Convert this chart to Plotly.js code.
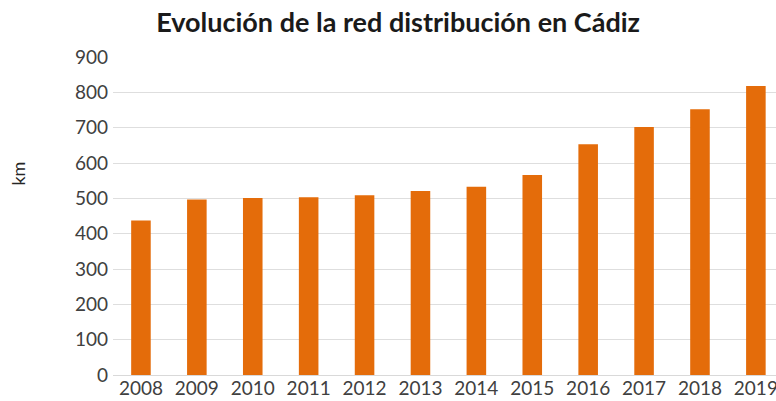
<!DOCTYPE html>
<html>
<head>
<meta charset="utf-8">
<script src="https://cdn.plot.ly/plotly-3.0.1.min.js"></script>
<style>html,body{margin:0;padding:0;background:#fff;}#chart{width:776px;height:401px;}</style>
</head>
<body>
<div id="chart"></div>
<script>
const years = ["2008","2009","2010","2011","2012","2013","2014","2015","2016","2017","2018","2019"];
const km = [437, 497, 501, 503, 509, 521, 533, 566, 653, 702, 752, 818];
const yTicks = [0,100,200,300,400,500,600,700,800,900];

const trace = {
  type: 'bar',
  x: years,
  y: km,
  width: 0.35,
  marker: {color: '#E46C0A', line: {width: 0}},
  hoverinfo: 'x+y'
};

const layout = {
  width: 776,
  height: 401,
  margin: {l: 113, r: 0, t: 57, b: 26, pad: 0},
  paper_bgcolor: '#ffffff',
  plot_bgcolor: '#ffffff',
  showlegend: false,
  title: {
    text: '<b>Evolución de la red distribución en Cádiz</b>',
    font: {family: 'Lato, sans-serif', size: 27, color: '#1a1a1a'},
    x: 0.513, xref: 'container', xanchor: 'center',
    y: 0.945, yref: 'container', yanchor: 'middle'
  },
  xaxis: {
    type: 'category',
    range: [-0.5, 11.36],
    showgrid: false,
    showline: false,
    zeroline: false,
    ticks: '',
    tickfont: {family: 'Lato, sans-serif', size: 19, color: '#404040'},
    fixedrange: true
  },
  yaxis: {
    range: [0, 900],
    tickvals: yTicks,
    ticktext: yTicks.map(String),
    showgrid: true,
    gridcolor: '#dedede',
    gridwidth: 1,
    zeroline: true,
    zerolinecolor: '#d9d9d9',
    zerolinewidth: 1,
    showline: false,
    ticks: '',
    ticklabelstandoff: 4,
    tickfont: {family: 'Lato, sans-serif', size: 19, color: '#404040'},
    fixedrange: true
  },
  annotations: [{
    text: 'km',
    xref: 'paper', yref: 'paper',
    x: -0.144, y: 0.632,
    xanchor: 'center', yanchor: 'middle',
    textangle: -90,
    showarrow: false,
    font: {family: 'Lato, sans-serif', size: 18, color: '#262626'}
  }]
};

Plotly.newPlot('chart', [trace], layout, {displayModeBar: false, staticPlot: true});
</script>
</body>
</html>
